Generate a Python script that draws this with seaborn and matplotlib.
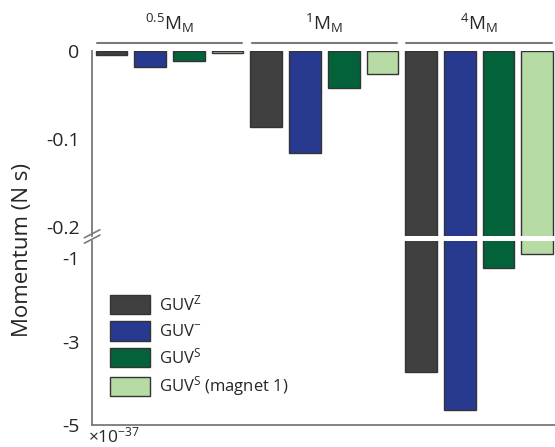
import matplotlib
matplotlib.use('Agg')
import matplotlib.pyplot as plt
import seaborn as sns
import pandas as pd

# valores (x 10^-37 N s)
grupos = ['0.5', '1', '4']
series = ['GUV$^{Z}$', 'GUV$^{-}$', 'GUV$^{S}$', 'GUV$^{S}$ (magnet 1)']
v_z = [-0.005, -0.086, -3.74]
v_neg = [-0.018, -0.116, -4.63]
v_s = [-0.011, -0.042, -1.24]
v_s_mag = [-0.002, -0.026, -0.90]
colores = ['#404040', '#283a8f', '#04623a', '#b6dba4']

filas = []
for serie, vals in zip(series, [v_z, v_neg, v_s, v_s_mag]):
    for g, v in zip(grupos, vals):
        filas.append({'grupo': g, 'serie': serie, 'valor': v})
df = pd.DataFrame(filas)

sns.set_style('white')
plt.rcParams['font.family'] = ['Open Sans', 'DejaVu Sans']
plt.rcParams['mathtext.default'] = 'regular'

fig = plt.figure(figsize=(5.55, 4.47), dpi=100)
ax_top = fig.add_axes([0.166, 0.472, 0.834, 0.414])
ax_bot = fig.add_axes([0.166, 0.049, 0.834, 0.412])

gris = '#7a7a7a'
for ax in (ax_top, ax_bot):
    sns.barplot(data=df, x='grupo', y='valor', hue='serie', palette=colores,
                saturation=1, width=1.0, gap=0.18, edgecolor='#333333',
                linewidth=1, ax=ax, legend=(ax is ax_bot))
    ax.set_xlim(-0.5, 2.49)
    ax.set_xlabel('')
    ax.set_ylabel('')
    ax.set_xticks([])
    for s in ['top', 'right']:
        ax.spines[s].set_visible(False)
    ax.spines['left'].set_color(gris)
    ax.spines['left'].set_linewidth(1.3)
    ax.tick_params(axis='y', direction='out', length=7, width=1.3, color=gris,
                   labelsize=14, pad=2)

ax_top.set_ylim(-0.21, 0)
ax_top.set_yticks([0, -0.1, -0.2])
ax_top.set_yticklabels(['0', '-0.1', '-0.2'])
ax_top.spines['bottom'].set_visible(False)

ax_bot.set_ylim(-5, -0.59)
ax_bot.set_yticks([-1, -3, -5])
ax_bot.set_yticklabels(['-1', '-3', '-5'])
ax_bot.spines['bottom'].set_color(gris)
ax_bot.spines['bottom'].set_linewidth(1.3)

ax_bot.legend(loc='lower left', bbox_to_anchor=(0.039, 0.145), frameon=False,
              fontsize=12, handlelength=2.4, handleheight=1.4,
              labelspacing=0.42, handletextpad=0.5, borderpad=0, borderaxespad=0)

# marcas de corte del eje
for dy in (0.0, 0.012):
    fig.add_artist(plt.Line2D([0.152, 0.18], [0.456 + dy, 0.474 + dy],
                              color=gris, linewidth=1.2))

# encabezados de grupo
cabeceras = ['$^{0.5}$M$_{M}$', '$^{1}$M$_{M}$', '$^{4}$M$_{M}$']
for i, txt in enumerate(cabeceras):
    x0, x1 = i - 0.47, i + 0.47
    ax_top.plot([x0, x1], [1.045, 1.045], color=gris, linewidth=1.5,
                transform=ax_top.get_xaxis_transform(), clip_on=False)
    ax_top.text(i, 1.085, txt, ha='center', va='bottom', fontsize=13.5,
                transform=ax_top.get_xaxis_transform())

fig.text(0.041, 0.44, 'Momentum (N s)', rotation=90, ha='center', va='center',
         fontsize=16)
fig.text(0.158, 0.002, '×10$^{-37}$', ha='left', va='bottom', fontsize=12.5)

plt.savefig('out.png', dpi=100)
plt.close()
